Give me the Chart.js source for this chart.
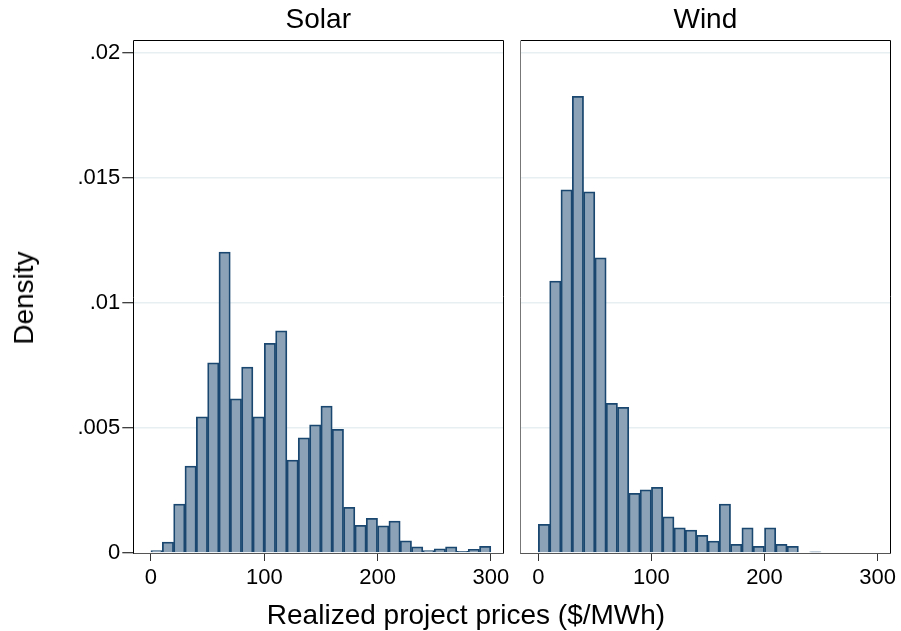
<!DOCTYPE html>
<html>
<head>
<meta charset="utf-8">
<script src="https://cdn.jsdelivr.net/npm/chart.js@4.4.0/dist/chart.umd.min.js"></script>
<style>
  body { margin: 0; background: #fff; }
  #wrap { position: relative; width: 901px; height: 631px; overflow: hidden; font-family: "Liberation Sans", Arial, Helvetica, sans-serif; }
  canvas { position: absolute; left: 0; top: 0; }
  .lbl { position: absolute; font-size: 28px; line-height: 28px; white-space: nowrap; color: #000; transform: translate(-50%, -50%); }
</style>
</head>
<body>
<div id="wrap">
  <canvas id="solar" width="901" height="631"></canvas>
  <canvas id="wind" width="901" height="631"></canvas>
  <div class="lbl" style="left:24px;top:298px;transform:translate(-50%,-50%) rotate(-90deg);">Density</div>
  <div class="lbl" style="left:466px;top:615px;">Realized project prices ($/MWh)</div>
</div>
<script>
// bin midpoints ($/MWh) and densities
const solarBinMid = [5, 15, 25, 35, 45, 55, 65, 75, 85, 95, 105, 115, 125, 135, 145, 155, 165, 175, 185, 195, 205, 215, 225, 235, 245, 255, 265, 275, 285, 295];
const solarDensity = [0.0001, 0.00044, 0.00196, 0.00348, 0.00545, 0.00761, 0.01204, 0.00617, 0.00744, 0.00545,
                      0.00839, 0.00889, 0.00372, 0.00461, 0.00513, 0.00588, 0.00495, 0.00183, 0.00111, 0.00139,
                      0.00109, 0.00128, 0.00049, 0.00025, 0.0001, 0.00017, 0.00025, 0.00007, 0.00015, 0.00027];

const windBinMid = [5, 15, 25, 35, 45, 55, 65, 75, 85, 95, 105, 115, 125, 135, 145, 155, 165, 175, 185, 195, 205, 215, 225, 235, 245];
const windDensity = [0.00115, 0.01088, 0.01453, 0.01827, 0.01445, 0.01181, 0.00599, 0.00583, 0.00239, 0.00253,
                     0.00263, 0.00145, 0.00101, 0.00092, 0.00071, 0.00048, 0.00196, 0.00035, 0.00101, 0.00027,
                     0.00101, 0.00035, 0.00027, null, 0.00005];

const xTickValues = [0, 100, 200, 300];
const yTickValues = [0, 0.005, 0.01, 0.015, 0.02];
const yTickLabels = ["0", ".005", ".01", ".015", ".02"];

const FONT = "'Liberation Sans', Arial, Helvetica, sans-serif";
const NAVY = "#1a476f";
const FILL = "#8ca3b7";
const GRID = "#e8eff2";

// top + right edges of the plot box
const framePlugin = {
  id: "frame",
  afterDraw(chart) {
    const a = chart.chartArea, c = chart.ctx;
    c.save();
    c.strokeStyle = "#000";
    c.lineWidth = 1;
    c.beginPath();
    c.moveTo(a.left, 40.5);
    c.lineTo(Math.round(a.right) + 0.5, 40.5);
    c.lineTo(Math.round(a.right) + 0.5, a.bottom);
    c.stroke();
    c.restore();
  }
};

function makePanel(id, title, mids, dens, padLeft, padRight, yWidth, showY, yBorder) {
  const ctx = document.getElementById(id).getContext("2d");
  return new Chart(ctx, {
    type: "bar",
    data: {
      datasets: [{
        data: mids.map((m, i) => ({ x: m, y: dens[i] })),
        backgroundColor: FILL,
        borderColor: NAVY,
        borderWidth: 1.8,
        categoryPercentage: 1,
        barPercentage: 1
      }]
    },
    options: {
      responsive: false,
      animation: false,
      layout: { padding: { left: padLeft, right: padRight, top: 0, bottom: 0 } },
      plugins: {
        legend: { display: false },
        tooltip: { enabled: false },
        title: {
          display: true,
          text: title,
          fullSize: false,
          color: "#000",
          font: { family: FONT, size: 28, weight: "normal", lineHeight: 1 },
          padding: { top: 6, bottom: 7 }
        }
      },
      scales: {
        x: {
          type: "linear",
          offset: false,
          min: -15.6,
          max: 311,
          afterBuildTicks: s => { s.ticks = xTickValues.map(v => ({ value: v })); },
          afterFit: s => { s.height = 78; },
          ticks: { color: "#000", font: { family: FONT, size: 22 }, padding: 4, maxRotation: 0, callback: v => String(v) },
          grid: { offset: false, drawOnChartArea: false, drawTicks: true, tickLength: 8, tickColor: "#333", tickWidth: 1 },
          border: { color: "#555", width: 1 }
        },
        y: {
          min: 0,
          max: 0.02048,
          afterBuildTicks: s => { s.ticks = yTickValues.map(v => ({ value: v })); },
          afterFit: s => { s.width = yWidth; },
          ticks: {
            display: showY,
            color: "#000",
            font: { family: FONT, size: 22 },
            padding: 2,
            callback: v => yTickLabels[yTickValues.indexOf(v)]
          },
          grid: {
            color: c => (c.tick && c.tick.value === 0) ? "rgba(0,0,0,0)" : GRID,
            lineWidth: 1.5,
            drawTicks: showY,
            tickLength: 11,
            tickColor: "#000",
            tickWidth: 1
          },
          border: { color: yBorder, width: 1 }
        }
      }
    },
    plugins: [framePlugin]
  });
}

makePanel("solar", "Solar", solarBinMid, solarDensity, 0, 397.7, 133.3, true, "#000");
makePanel("wind", "Wind", windBinMid, windDensity, 520.7, 11, 0, false, "#777");
</script>
</body>
</html>
